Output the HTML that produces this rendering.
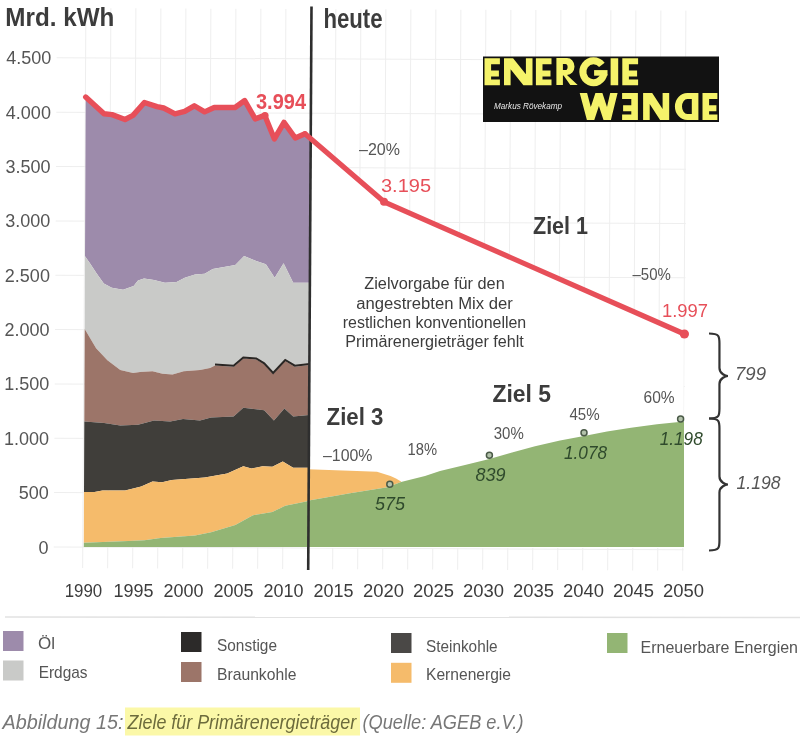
<!DOCTYPE html>
<html><head><meta charset="utf-8"><title>Energiewende</title>
<style>
html,body{margin:0;padding:0;background:#fff;}
body{width:800px;height:745px;overflow:hidden;position:relative;font-family:"Liberation Sans",sans-serif;}
svg{position:absolute;left:0;top:0;font-family:"Liberation Sans",sans-serif;filter:blur(0.35px);}
</style></head><body>
<svg width="800" height="745" viewBox="0 0 800 745">
<rect width="800" height="745" fill="#fff"/>
<g transform="matrix(1,0.0042,-0.0058,1,0.95,-0.252)" stroke="#eeeeee" stroke-width="1" fill="none"><line x1="85" y1="8" x2="85" y2="568"/><line x1="110" y1="8" x2="110" y2="568"/><line x1="135" y1="8" x2="135" y2="568"/><line x1="160" y1="8" x2="160" y2="568"/><line x1="185" y1="8" x2="185" y2="568"/><line x1="210" y1="8" x2="210" y2="568"/><line x1="235" y1="8" x2="235" y2="568"/><line x1="260" y1="8" x2="260" y2="568"/><line x1="285" y1="8" x2="285" y2="568"/><line x1="310" y1="8" x2="310" y2="568"/><line x1="335" y1="8" x2="335" y2="568"/><line x1="360" y1="8" x2="360" y2="568"/><line x1="385" y1="8" x2="385" y2="568"/><line x1="410" y1="8" x2="410" y2="568"/><line x1="435" y1="8" x2="435" y2="568"/><line x1="460" y1="8" x2="460" y2="568"/><line x1="485" y1="8" x2="485" y2="568"/><line x1="510" y1="8" x2="510" y2="568"/><line x1="535" y1="8" x2="535" y2="568"/><line x1="560" y1="8" x2="560" y2="568"/><line x1="585" y1="8" x2="585" y2="568"/><line x1="610" y1="8" x2="610" y2="568"/><line x1="635" y1="8" x2="635" y2="568"/><line x1="660" y1="8" x2="660" y2="568"/><line x1="685" y1="8" x2="685" y2="568"/><line x1="56" y1="57.8" x2="686" y2="57.8"/><line x1="56" y1="112.2" x2="686" y2="112.2"/><line x1="56" y1="166.5" x2="686" y2="166.5"/><line x1="56" y1="220.9" x2="686" y2="220.9"/><line x1="56" y1="275.2" x2="686" y2="275.2"/><line x1="56" y1="329.6" x2="686" y2="329.6"/><line x1="56" y1="383.9" x2="686" y2="383.9"/><line x1="56" y1="438.2" x2="686" y2="438.2"/><line x1="56" y1="492.6" x2="686" y2="492.6"/><line x1="56" y1="547.0" x2="686" y2="547.0"/></g>
<polygon fill="#fff" points="310,137 384,201.8 683.5,333.5 683.5,548 310,548"/>
<polygon fill="#9d8bab" points="85.7,99.0 104.0,113.8 112.0,114.6 125.0,119.5 133.0,115.4 144.4,102.5 157.0,106.6 163.7,108.0 175.0,113.8 184.7,111.4 194.3,105.8 204.6,111.9 214.2,107.5 235.0,107.5 244.7,100.5 255.2,118.9 264.8,115.4 274.4,138.9 284.0,122.4 295.3,138.0 305.0,133.7 310.7,139.0 309.9,282.7 293.2,282.7 283.6,263.3 274.7,277.8 265.9,264.2 256.2,261.0 244.1,256.1 235.3,265.0 212.7,269.0 204.7,273.8 195.0,274.6 184.7,277.8 176.6,282.0 165.0,282.7 154.0,280.0 144.0,278.6 138.0,280.4 133.6,286.0 123.1,289.7 111.8,287.7 103.8,283.6 96.5,273.2 90.1,263.5 85.0,256.3"/>
<polygon fill="#c9cac8" points="85.0,256.3 90.1,263.5 96.5,273.2 103.8,283.6 111.8,287.7 123.1,289.7 133.6,286.0 138.0,280.4 144.0,278.6 154.0,280.0 165.0,282.7 176.6,282.0 184.7,277.8 195.0,274.6 204.7,273.8 212.7,269.0 235.3,265.0 244.1,256.1 256.2,261.0 265.9,264.2 274.7,277.8 283.6,263.3 293.2,282.7 309.9,282.7 309.4,365.1 294.8,366.7 285.2,361.0 273.1,374.0 264.2,364.3 256.2,359.5 243.3,358.6 233.6,366.7 215.0,365.6 210.0,368.1 200.0,370.0 183.8,371.2 172.5,374.4 162.5,373.8 152.5,371.2 140.0,371.9 133.1,373.1 120.3,369.9 107.4,360.3 96.1,348.2 84.7,328.9"/>
<polygon fill="#9c7569" points="84.7,328.9 96.1,348.2 107.4,360.3 120.3,369.9 133.1,373.1 140.0,371.9 152.5,371.2 162.5,373.8 172.5,374.4 183.8,371.2 200.0,370.0 210.0,368.1 215.0,365.6 233.6,366.7 243.3,358.6 256.2,359.5 264.2,364.3 273.1,374.0 285.2,361.0 294.8,366.7 309.4,365.1 309.1,415.0 293.2,416.6 284.4,408.6 273.9,420.6 264.2,410.2 243.3,407.8 233.6,416.6 211.1,417.4 200.0,420.6 183.0,419.0 170.2,421.4 154.0,420.6 138.0,424.7 120.3,425.5 104.2,423.0 84.3,421.4"/>
<polygon fill="#403e3a" points="84.3,421.4 104.2,423.0 120.3,425.5 138.0,424.7 154.0,420.6 170.2,421.4 183.0,419.0 200.0,420.6 211.1,417.4 233.6,416.6 243.3,407.8 264.2,410.2 273.9,420.6 284.4,408.6 293.2,416.6 309.1,415.0 308.8,467.8 293.2,467.8 282.8,461.4 272.3,466.7 262.6,466.2 251.4,468.6 243.3,466.2 227.2,473.5 204.7,477.5 195.0,478.3 171.8,479.9 162.1,482.3 152.5,481.5 141.2,486.4 125.1,490.4 102.5,490.4 94.5,492.0 84.0,492.0"/>
<polygon fill="#f5bb6b" points="84.0,492.0 94.5,492.0 102.5,490.4 125.1,490.4 141.2,486.4 152.5,481.5 162.1,482.3 171.8,479.9 195.0,478.3 204.7,477.5 227.2,473.5 243.3,466.2 251.4,468.6 262.6,466.2 272.3,466.7 282.8,461.4 293.2,467.8 308.8,467.8 308.6,500.9 285.2,505.7 272.3,512.1 253.0,515.3 235.3,525.0 211.1,532.3 195.0,535.5 160.5,537.9 144.4,540.3 128.3,541.1 83.8,542.7"/>
<polygon fill="#93b574" points="83.8,542.7 128.3,541.1 144.4,540.3 160.5,537.9 195.0,535.5 211.1,532.3 235.3,525.0 253.0,515.3 272.3,512.1 285.2,505.7 308.6,500.9 308.3,547.0 83.8,547.0"/>
<polyline fill="none" stroke="#2a2624" stroke-width="2" points="215.0,364.6 233.6,365.7 243.3,357.6 256.2,358.5 264.2,363.3 273.1,373.0 285.2,360.0 294.8,365.7 309.4,364.1"/>
<polygon fill="#f5bb6b" points="307.5,469.2 350.0,470.7 377.0,471.8 390.5,476.0 396.0,478.5 401.0,481.5 401.0,482.0 387.5,487.3 350.0,493.3 307.5,500.7"/>
<polygon fill="#93b574" points="307.5,500.7 350.0,493.3 387.5,487.3 401.0,482.0 425.0,476.0 440.0,471.0 465.0,465.0 489.4,459.0 512.0,452.5 535.0,446.2 560.0,440.6 584.0,436.0 607.0,431.6 631.0,427.7 657.0,424.3 684.0,421.4 684.0,547.0 307.5,547.0"/>
<line x1="311.5" y1="6.5" x2="308.2" y2="570" stroke="#2e2e2e" stroke-width="2.6"/>
<polyline fill="none" stroke="#e74f59" stroke-width="5.4" stroke-linejoin="round" stroke-linecap="round" points="85.7,97.0 104.0,113.8 112.0,114.6 125.0,119.5 133.0,115.4 144.4,102.5 157.0,106.6 163.7,108.0 175.0,113.8 184.7,111.4 194.3,105.8 204.6,111.9 214.2,107.5 235.0,107.5 244.7,100.5 255.2,118.9 264.8,115.4 274.4,138.9 284.0,122.4 295.3,138.0 305.0,133.7"/>
<polyline fill="none" stroke="#e74f59" stroke-width="5.2" stroke-linejoin="round" stroke-linecap="round" points="305.0,133.7 384.0,201.8 684.4,334.0"/>
<circle cx="384" cy="201.8" r="4" fill="#e74f59"/>
<circle cx="684.4" cy="334" r="4.6" fill="#e74f59"/>
<circle cx="265" cy="115.5" r="3.6" fill="#e74f59"/>
<circle cx="389.8" cy="484.3" r="3.0" fill="#b3c2ab" stroke="#4a5a47" stroke-width="1.5"/>
<circle cx="489.4" cy="455.3" r="3.0" fill="#b3c2ab" stroke="#4a5a47" stroke-width="1.5"/>
<circle cx="584" cy="432.7" r="3.0" fill="#b3c2ab" stroke="#4a5a47" stroke-width="1.5"/>
<circle cx="680.6" cy="419" r="3.0" fill="#b3c2ab" stroke="#4a5a47" stroke-width="1.5"/>
<path d="M709,333.5 C719.45,333.5 719.45,336.5 719.45,343.5 L719.45,368.0 C719.45,374.0 726,376.0 728,376.0 C726,376.0 719.45,378.0 719.45,384.0 L719.45,408.5 C719.45,415.5 719.45,418.5 709,418.5" fill="none" stroke="#333" stroke-width="2.2"/>
<path d="M709,418.5 C719.45,418.5 719.45,421.5 719.45,428.5 L719.45,476.5 C719.45,482.5 726,484.5 728,484.5 C726,484.5 719.45,486.5 719.45,492.5 L719.45,540.5 C719.45,547.5 719.45,550.5 709,550.5" fill="none" stroke="#333" stroke-width="2.2"/>
<text x="5.3" y="26" font-size="26" fill="#3c3c3c" font-weight="bold" font-style="normal" text-anchor="start" textLength="109" lengthAdjust="spacingAndGlyphs">Mrd. kWh</text>
<text x="323.5" y="28" font-size="27.5" fill="#3c3c3c" font-weight="bold" font-style="normal" text-anchor="start" textLength="59" lengthAdjust="spacingAndGlyphs">heute</text>
<text x="51.2" y="64.3" font-size="18" fill="#555555" font-weight="normal" font-style="normal" text-anchor="end">4.500</text>
<text x="50.9" y="118.7" font-size="18" fill="#555555" font-weight="normal" font-style="normal" text-anchor="end">4.000</text>
<text x="50.6" y="173.0" font-size="18" fill="#555555" font-weight="normal" font-style="normal" text-anchor="end">3.500</text>
<text x="50.3" y="227.4" font-size="18" fill="#555555" font-weight="normal" font-style="normal" text-anchor="end">3.000</text>
<text x="49.9" y="281.7" font-size="18" fill="#555555" font-weight="normal" font-style="normal" text-anchor="end">2.500</text>
<text x="49.6" y="336.1" font-size="18" fill="#555555" font-weight="normal" font-style="normal" text-anchor="end">2.000</text>
<text x="49.3" y="390.4" font-size="18" fill="#555555" font-weight="normal" font-style="normal" text-anchor="end">1.500</text>
<text x="49.0" y="444.8" font-size="18" fill="#555555" font-weight="normal" font-style="normal" text-anchor="end">1.000</text>
<text x="48.7" y="499.1" font-size="18" fill="#555555" font-weight="normal" font-style="normal" text-anchor="end">500</text>
<text x="48.4" y="553.5" font-size="18" fill="#555555" font-weight="normal" font-style="normal" text-anchor="end">0</text>
<text x="83.4" y="597" font-size="17.5" fill="#3c3c3c" font-weight="normal" font-style="normal" text-anchor="middle" textLength="37.5" lengthAdjust="spacingAndGlyphs">1990</text>
<text x="133.4" y="597" font-size="17.5" fill="#3c3c3c" font-weight="normal" font-style="normal" text-anchor="middle" textLength="40" lengthAdjust="spacingAndGlyphs">1995</text>
<text x="183.4" y="597" font-size="17.5" fill="#3c3c3c" font-weight="normal" font-style="normal" text-anchor="middle" textLength="40" lengthAdjust="spacingAndGlyphs">2000</text>
<text x="233.4" y="597" font-size="17.5" fill="#3c3c3c" font-weight="normal" font-style="normal" text-anchor="middle" textLength="40" lengthAdjust="spacingAndGlyphs">2005</text>
<text x="283.4" y="597" font-size="17.5" fill="#3c3c3c" font-weight="normal" font-style="normal" text-anchor="middle" textLength="40" lengthAdjust="spacingAndGlyphs">2010</text>
<text x="333.4" y="597" font-size="17.5" fill="#3c3c3c" font-weight="normal" font-style="normal" text-anchor="middle" textLength="40" lengthAdjust="spacingAndGlyphs">2015</text>
<text x="383.4" y="597" font-size="17.5" fill="#3c3c3c" font-weight="normal" font-style="normal" text-anchor="middle" textLength="41" lengthAdjust="spacingAndGlyphs">2020</text>
<text x="433.4" y="597" font-size="17.5" fill="#3c3c3c" font-weight="normal" font-style="normal" text-anchor="middle" textLength="41" lengthAdjust="spacingAndGlyphs">2025</text>
<text x="483.4" y="597" font-size="17.5" fill="#3c3c3c" font-weight="normal" font-style="normal" text-anchor="middle" textLength="41" lengthAdjust="spacingAndGlyphs">2030</text>
<text x="533.4" y="597" font-size="17.5" fill="#3c3c3c" font-weight="normal" font-style="normal" text-anchor="middle" textLength="41" lengthAdjust="spacingAndGlyphs">2035</text>
<text x="583.4" y="597" font-size="17.5" fill="#3c3c3c" font-weight="normal" font-style="normal" text-anchor="middle" textLength="41" lengthAdjust="spacingAndGlyphs">2040</text>
<text x="633.4" y="597" font-size="17.5" fill="#3c3c3c" font-weight="normal" font-style="normal" text-anchor="middle" textLength="41" lengthAdjust="spacingAndGlyphs">2045</text>
<text x="683.4" y="597" font-size="17.5" fill="#3c3c3c" font-weight="normal" font-style="normal" text-anchor="middle" textLength="41" lengthAdjust="spacingAndGlyphs">2050</text>
<text x="256" y="108.6" font-size="21.5" fill="#e74f59" font-weight="bold" font-style="normal" text-anchor="start" textLength="50" lengthAdjust="spacingAndGlyphs">3.994</text>
<text x="381" y="192.2" font-size="17.5" fill="#e74f59" font-weight="normal" font-style="normal" text-anchor="start" textLength="50" lengthAdjust="spacingAndGlyphs">3.195</text>
<text x="662" y="316.8" font-size="17.5" fill="#e74f59" font-weight="normal" font-style="normal" text-anchor="start" textLength="46" lengthAdjust="spacingAndGlyphs">1.997</text>
<text x="359" y="154.9" font-size="17" fill="#555555" font-weight="normal" font-style="normal" text-anchor="start" textLength="40.9" lengthAdjust="spacingAndGlyphs">–20%</text>
<text x="632.5" y="280" font-size="17" fill="#555555" font-weight="normal" font-style="normal" text-anchor="start" textLength="38.3" lengthAdjust="spacingAndGlyphs">–50%</text>
<text x="323" y="460.5" font-size="17" fill="#555555" font-weight="normal" font-style="normal" text-anchor="start" textLength="49.5" lengthAdjust="spacingAndGlyphs">–100%</text>
<text x="407.5" y="454.5" font-size="17" fill="#555555" font-weight="normal" font-style="normal" text-anchor="start" textLength="29.5" lengthAdjust="spacingAndGlyphs">18%</text>
<text x="493.75" y="439" font-size="17" fill="#555555" font-weight="normal" font-style="normal" text-anchor="start" textLength="30" lengthAdjust="spacingAndGlyphs">30%</text>
<text x="569.4" y="419.5" font-size="17" fill="#555555" font-weight="normal" font-style="normal" text-anchor="start" textLength="30.2" lengthAdjust="spacingAndGlyphs">45%</text>
<text x="643.6" y="402.8" font-size="17" fill="#555555" font-weight="normal" font-style="normal" text-anchor="start" textLength="31.1" lengthAdjust="spacingAndGlyphs">60%</text>
<text x="533" y="234.2" font-size="24" fill="#3c3c3c" font-weight="bold" font-style="normal" text-anchor="start" textLength="55" lengthAdjust="spacingAndGlyphs">Ziel 1</text>
<text x="326.6" y="425.4" font-size="24" fill="#3c3c3c" font-weight="bold" font-style="normal" text-anchor="start" textLength="56.8" lengthAdjust="spacingAndGlyphs">Ziel 3</text>
<text x="492.4" y="401.6" font-size="23" fill="#3c3c3c" font-weight="bold" font-style="normal" text-anchor="start" textLength="58.6" lengthAdjust="spacingAndGlyphs">Ziel 5</text>
<text x="375" y="510" font-size="17.5" fill="#2f4a2c" font-weight="normal" font-style="italic" text-anchor="start" textLength="30" lengthAdjust="spacingAndGlyphs">575</text>
<text x="475.6" y="480.6" font-size="17.5" fill="#2f4a2c" font-weight="normal" font-style="italic" text-anchor="start" textLength="30" lengthAdjust="spacingAndGlyphs">839</text>
<text x="564" y="458.6" font-size="17.5" fill="#2f4a2c" font-weight="normal" font-style="italic" text-anchor="start" textLength="43" lengthAdjust="spacingAndGlyphs">1.078</text>
<text x="659.7" y="444.6" font-size="17.5" fill="#2f4a2c" font-weight="normal" font-style="italic" text-anchor="start" textLength="43" lengthAdjust="spacingAndGlyphs">1.198</text>
<text x="735" y="380" font-size="17.5" fill="#555555" font-weight="normal" font-style="italic" text-anchor="start" textLength="31" lengthAdjust="spacingAndGlyphs">799</text>
<text x="736.6" y="489" font-size="17.5" fill="#555555" font-weight="normal" font-style="italic" text-anchor="start" textLength="44" lengthAdjust="spacingAndGlyphs">1.198</text>
<text x="434.5" y="289.4" font-size="16" fill="#3c3c3c" font-weight="normal" font-style="normal" text-anchor="middle" textLength="140.5" lengthAdjust="spacingAndGlyphs">Zielvorgabe für den</text>
<text x="434.5" y="308.6" font-size="16" fill="#3c3c3c" font-weight="normal" font-style="normal" text-anchor="middle" textLength="156.5" lengthAdjust="spacingAndGlyphs">angestrebten Mix der</text>
<text x="434.5" y="327.7" font-size="16" fill="#3c3c3c" font-weight="normal" font-style="normal" text-anchor="middle" textLength="183.5" lengthAdjust="spacingAndGlyphs">restlichen konventionellen</text>
<text x="434.5" y="346.6" font-size="16" fill="#3c3c3c" font-weight="normal" font-style="normal" text-anchor="middle" textLength="178.5" lengthAdjust="spacingAndGlyphs">Primärenergieträger fehlt</text>
<rect x="483" y="56.5" width="236" height="65.5" fill="#121212"/><path fill="#f5f36a" fill-rule="evenodd" d="M484.5,58.3H499.9V64.3H491.1V70.55H498.9V76.55H491.1V79.60000000000001H499.9V85.2H484.5Z M504,85.2V58.3H513.1L525.9,74.2V58.3H532.5V85.2H523.4L510.6,69.3V85.2Z M535.9,58.3H551.5V64.3H542.5V70.55H550.5V76.55H542.5V79.60000000000001H551.5V85.2H535.9Z M556.4,85V58H567A7.5,8.5 0 0 1 567,75L577.7,85H570.3L563.6,75.6H562.9V85Z M562.9,63.9H565.4A2.2,3.1 0 0 1 565.4,70.1H562.9Z M610.6,58.3H618.2V85.2H610.6Z M622.3,58.3H638.1V64.3H628.9V70.55H637.1V76.55H628.9V79.60000000000001H638.1V85.2H622.3Z M579.7,93.0H587.1L590.8000000000001,107.0L595.4000000000001,93.0H602.4000000000001L607.0,107.0L610.2,93.0H617.6L610.9000000000001,120.0H603.5L598.9000000000001,106.0L594.3000000000001,120.0H586.9Z M637.9,93.0H622.1V99.0H631.3V105.3H623.1V111.3H631.3V114.4H622.1V120.0H637.9Z M643.1,120.0V93.0H652.2L662.6,109.0V93.0H669.2V120.0H660.1L649.7,104.0V120.0Z M698.4,93.0V120.0H687.32A12.42,13.50 0 0 1 687.32,93.0Z M691.8,99.0H687.32A5.32,7.50 0 0 0 687.32,114.0H691.8Z M702.5,93.0H717.4V99.0H709.1V105.3H716.4V111.3H709.1V114.4H717.4V120.0H702.5Z"/><path d="M601.86,64.96A10.65,10.95 0 1 0 604.00,73.55" fill="none" stroke="#f5f36a" stroke-width="7"/><rect x="594.1" y="70.1" width="13.40" height="5.6" fill="#f5f36a"/><text x="494" y="108.5" font-size="8.5" fill="#e8e8e8" font-weight="normal" font-style="italic" text-anchor="start" textLength="68" lengthAdjust="spacingAndGlyphs">Markus Rövekamp</text>
<line x1="5" y1="617" x2="800" y2="617.5" stroke="#e2e2e2" stroke-width="1.5"/>
<rect x="3" y="631" width="20.5" height="20" fill="#9d8bab"/>
<text x="38" y="649" font-size="17" fill="#555555" font-weight="normal" font-style="normal" text-anchor="start" textLength="17" lengthAdjust="spacingAndGlyphs">Öl</text>
<rect x="3" y="660.5" width="20.5" height="20" fill="#c9cac8"/>
<text x="38.7" y="678" font-size="17" fill="#555555" font-weight="normal" font-style="normal" text-anchor="start" textLength="48.8" lengthAdjust="spacingAndGlyphs">Erdgas</text>
<rect x="181" y="632" width="20.5" height="20" fill="#2c2a29"/>
<text x="217" y="650.5" font-size="17" fill="#555555" font-weight="normal" font-style="normal" text-anchor="start" textLength="60" lengthAdjust="spacingAndGlyphs">Sonstige</text>
<rect x="181" y="662" width="20.5" height="20" fill="#9c7569"/>
<text x="217" y="679.5" font-size="17" fill="#555555" font-weight="normal" font-style="normal" text-anchor="start" textLength="79.4" lengthAdjust="spacingAndGlyphs">Braunkohle</text>
<rect x="391" y="633" width="20.5" height="20" fill="#4a4846"/>
<text x="426" y="652" font-size="17" fill="#555555" font-weight="normal" font-style="normal" text-anchor="start" textLength="71.6" lengthAdjust="spacingAndGlyphs">Steinkohle</text>
<rect x="391" y="662.8" width="20.5" height="20" fill="#f5bb6b"/>
<text x="426" y="680" font-size="17" fill="#555555" font-weight="normal" font-style="normal" text-anchor="start" textLength="85" lengthAdjust="spacingAndGlyphs">Kernenergie</text>
<rect x="607" y="633" width="20.5" height="20" fill="#93b574"/>
<text x="640.5" y="652.8" font-size="17" fill="#555555" font-weight="normal" font-style="normal" text-anchor="start" textLength="157.5" lengthAdjust="spacingAndGlyphs">Erneuerbare Energien</text>
<rect x="125" y="707.5" width="235" height="28" fill="#fbf8a8"/>
<text x="2.5" y="729.3" font-size="20.5" fill="#777777" font-weight="normal" font-style="italic" text-anchor="start" textLength="121" lengthAdjust="spacingAndGlyphs">Abbildung 15:</text>
<text x="127.6" y="729.3" font-size="20.5" fill="#6c6b3c" font-weight="normal" font-style="italic" text-anchor="start" textLength="228.5" lengthAdjust="spacingAndGlyphs">Ziele für Primärenergieträger</text>
<text x="362.5" y="729.3" font-size="20.5" fill="#777777" font-weight="normal" font-style="italic" text-anchor="start" textLength="161" lengthAdjust="spacingAndGlyphs">(Quelle: AGEB e.V.)</text>

</svg>
</body></html>
